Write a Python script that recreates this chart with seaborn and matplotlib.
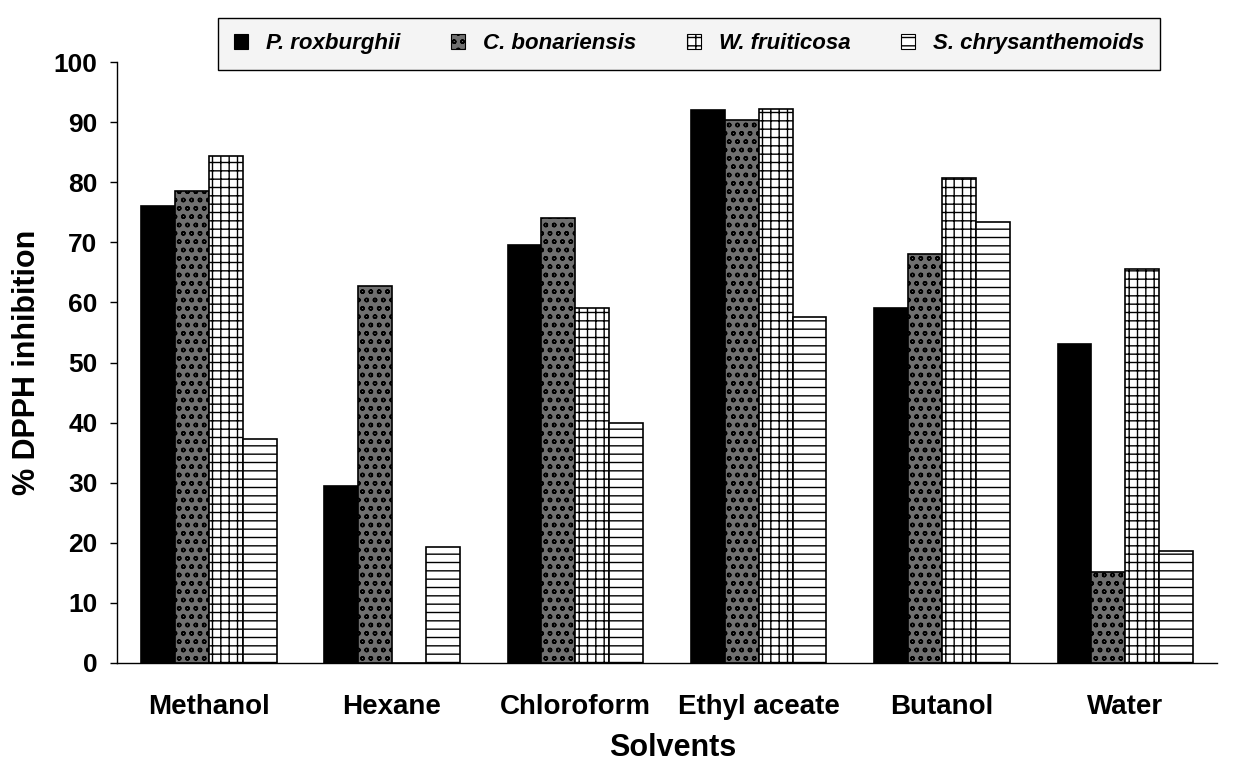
import numpy as np
import pandas as pd
import matplotlib
matplotlib.use("Agg")
import matplotlib.pyplot as plt
import seaborn as sns
from matplotlib.patches import Patch

solvents = ["Methanol", "Hexane", "Chloroform", "Ethyl aceate", "Butanol", "Water"]
species = ["P. roxburghii", "C. bonariensis", "W. fruiticosa", "S. chrysanthemoids"]
p_roxburghii = [76.0, 29.5, 69.5, 92.0, 59.0, 53.0]
c_bonariensis = [78.6, 62.8, 74.0, 90.3, 68.0, 15.2]
w_fruiticosa = [84.4, 0.0, 59.0, 92.2, 80.7, 65.5]
s_chrysanthemoids = [37.2, 19.3, 40.0, 57.5, 73.3, 18.7]
yticks = list(range(0, 101, 10))

series = [p_roxburghii, c_bonariensis, w_fruiticosa, s_chrysanthemoids]
rows = []
for sp, vals in zip(species, series):
    for s, v in zip(solvents, vals):
        rows.append({"Solvent": s, "Species": sp, "Value": v})
df = pd.DataFrame(rows)

sns.set_style("white")
plt.rcParams["font.family"] = ["Liberation Sans", "DejaVu Sans"]
plt.rcParams["hatch.linewidth"] = 1.0
plt.rcParams["text.color"] = "black"
plt.rcParams["axes.labelcolor"] = "black"
plt.rcParams["xtick.color"] = "black"
plt.rcParams["ytick.color"] = "black"

fig = plt.figure(figsize=(12.33, 7.67), dpi=100)
ax = fig.add_axes([117/1233, 1-663/767, 1100/1233, 601/767])

faces = ["black", "#707070", "white", "white"]
hatches = [None, "oo", "++", "--"]
palette = dict(zip(species, faces))

sns.barplot(data=df, x="Solvent", y="Value", hue="Species", order=solvents,
            hue_order=species, palette=palette, width=0.74, gap=0,
            edgecolor="black", linewidth=1.2, saturation=1, ax=ax, legend=False,
            errorbar=None)

for cont, h, fc in zip(ax.containers, hatches, faces):
    for bar in cont:
        bar.set_facecolor(fc)
        bar.set_edgecolor("black")
        if h:
            bar.set_hatch(h)

ax.set_ylim(0, 100)
ax.set_xlim(-0.5, len(solvents) - 0.5)
ax.set_yticks(yticks)
ax.set_yticklabels([str(t) for t in yticks], fontsize=19, fontweight="bold", color="black")
ax.set_xticks(range(len(solvents)))
ax.set_xticklabels(solvents, fontsize=20, fontweight="bold", color="black")
ax.tick_params(axis="x", which="major", length=0, pad=22)
ax.set_xticks(np.arange(-0.5, len(solvents), 1.0), minor=True)
ax.tick_params(axis="x", which="minor", length=6, width=1, color="black", direction="out")
ax.tick_params(axis="y", length=5, width=1, color="black", direction="out", left=True, pad=9)

for side in ["top", "right"]:
    ax.spines[side].set_visible(False)
for side in ["left", "bottom"]:
    ax.spines[side].set_color("black")
    ax.spines[side].set_linewidth(1)

ax.set_xlabel("Solvents", fontsize=22, fontweight="bold", color="black")
ax.xaxis.set_label_coords(0.505, -(763-663)/601)
ax.xaxis.label.set_va("bottom")
ax.set_ylabel("% DPPH inhibition", fontsize=22, fontweight="bold", color="black")
ax.yaxis.set_label_coords(-0.068, 0.5)

handles = [Patch(facecolor=fc, edgecolor="black", hatch=h, linewidth=0.8)
           for fc, h in zip(faces, hatches)]
leg = fig.legend(handles, species, loc="lower left",
                 bbox_to_anchor=(218/1233, 1-70/767, 942/1233, 64/767),
                 mode="expand", ncol=4, frameon=True, fancybox=False,
                 edgecolor="black", facecolor="#f4f4f4", framealpha=1,
                 handlelength=0.65, handleheight=0.65, borderaxespad=0,
                 prop={"size": 16, "weight": "bold", "style": "italic"},
                 borderpad=0.7, handletextpad=0.8)
leg.get_frame().set_linewidth(1)
for t in leg.get_texts():
    t.set_color("black")

fig.savefig("out.png", dpi=100)
